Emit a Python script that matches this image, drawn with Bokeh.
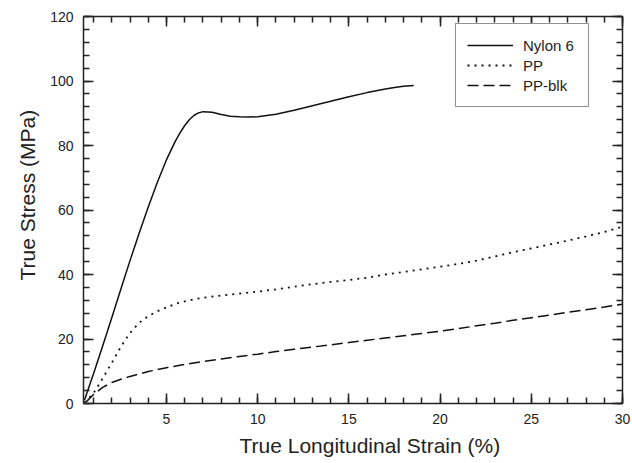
from bokeh.plotting import figure
from bokeh.models import (Range1d, FixedTicker, LinearAxis, Legend, LegendItem, Title)
from bokeh.embed import file_html
from bokeh.resources import INLINE

# ---- data ----
nylon_x = [0.5, 1.0, 1.5, 2.0, 2.5, 3.0, 3.5, 4.0, 4.5, 5.0, 5.5, 5.75, 6.0, 6.25, 6.5,
           6.75, 7.0, 7.5, 8.0, 8.5, 9.0, 9.5, 10.0, 11.0, 12.0,
           13.0, 14.0, 15.0, 16.0, 17.0, 17.5, 18.0, 18.55]
nylon_y = [1.0, 9.2, 17.8, 26.6, 35.5, 44.3, 52.8, 60.9, 68.6, 75.6, 81.5, 84.0, 86.2, 88.0, 89.3,
           90.1, 90.5, 90.3, 89.6, 89.1, 88.9, 88.8, 88.9, 89.7, 90.9,
           92.3, 93.7, 95.1, 96.4, 97.5, 98.0, 98.4, 98.6]

pp_x = [0.5, 1.0, 1.5, 2.0, 2.5, 3.0, 3.5, 4.0, 4.5, 5.0, 5.5, 6.0, 6.5, 7.0, 8.0, 9.0, 10.0,
        11.0, 12.0, 13.0, 14.0, 15.0, 16.0, 17.0, 18.0, 19.0, 20.0, 21.0, 22.0, 23.0,
        24.0, 25.0, 26.0, 27.0, 28.0, 29.0, 30.0]
pp_y = [0.3, 3.2, 7.8, 12.6, 17.6, 21.9, 25.0, 27.1, 28.6, 29.8, 30.9, 31.7, 32.3, 32.8, 33.5, 34.1, 34.7,
        35.4, 36.2, 37.0, 37.7, 38.3, 39.0, 40.0, 40.8, 41.6, 42.4, 43.3, 44.3, 45.6,
        46.9, 48.1, 49.3, 50.5, 51.8, 53.2, 54.8]

blk_x = [0.6, 1.0, 1.5, 2.0, 2.5, 3.0, 4.0, 5.0, 6.0, 7.0, 8.0, 9.0, 10.0, 11.0, 12.0,
         13.0, 14.0, 15.0, 16.0, 17.0, 18.0, 19.0, 20.0, 21.0, 22.0, 23.0, 24.0, 25.0,
         26.0, 27.0, 28.0, 29.0, 30.0]
blk_y = [0.5, 2.8, 5.0, 6.5, 7.5, 8.4, 9.9, 11.1, 12.1, 13.0, 13.8, 14.6, 15.3, 16.1, 16.8,
         17.5, 18.2, 18.9, 19.6, 20.3, 21.0, 21.7, 22.4, 23.2, 24.1, 24.9, 25.8, 26.6,
         27.4, 28.3, 29.1, 29.9, 30.8]

x_major = [5, 10, 15, 20, 25, 30]
x_minor = list(range(1, 31))
y_major = [0, 20, 40, 60, 80, 100, 120]
y_minor = list(range(0, 121, 4))

series_names = ["Nylon 6", "PP", "PP-blk"]
x_title = "True Longitudinal Strain (%)"
y_title = "True Stress (MPa)"

FONT = "Liberation Sans"
INK = "#222222"

p = figure(width=632, height=463, output_backend="svg", toolbar_location=None,
           x_range=Range1d(0.45, 30), y_range=Range1d(0, 120),
           min_border_left=83, min_border_right=10, min_border_top=16, min_border_bottom=60)
p.outline_line_color = None
p.grid.visible = False
p.background_fill_color = "white"
p.border_fill_color = "white"

def style_axis(ax, ticks, minor, labels=True):
    ax.ticker = FixedTicker(ticks=ticks, minor_ticks=minor)
    ax.major_tick_in = 10
    ax.major_tick_out = 0
    ax.minor_tick_in = 6
    ax.minor_tick_out = 0
    ax.axis_line_width = 1.5
    ax.major_tick_line_width = 1.5
    ax.minor_tick_line_width = 1.5
    ax.axis_line_color = INK
    ax.major_tick_line_color = INK
    ax.minor_tick_line_color = INK
    if labels:
        ax.major_label_text_font = FONT
        ax.major_label_text_font_size = "14px"
        ax.major_label_text_color = INK
        ax.major_label_standoff = 10
    else:
        ax.major_label_text_font_size = "1px"
        ax.major_label_text_color = None
        ax.major_label_text_alpha = 0
        ax.major_label_standoff = 0

style_axis(p.xaxis[0], x_major, x_minor)
style_axis(p.yaxis[0], y_major, y_minor)
top = LinearAxis()
right = LinearAxis()
style_axis(top, x_major, x_minor, labels=False)
style_axis(right, y_major, y_minor, labels=False)
p.add_layout(top, "above")
p.add_layout(right, "right")

r1 = p.line(nylon_x, nylon_y, line_color="#111111", line_width=1.5)
r2 = p.line(pp_x, pp_y, line_color="#111111", line_width=1.8, line_dash="2 5")
r3 = p.line(blk_x, blk_y, line_color="#111111", line_width=1.5, line_dash="11 5")

legend = Legend(items=[LegendItem(label=series_names[0], renderers=[r1]),
                       LegendItem(label=series_names[1], renderers=[r2]),
                       LegendItem(label=series_names[2], renderers=[r3])],
                location=(372, 296))
legend.border_line_color = INK
legend.border_line_width = 1
legend.background_fill_color = "white"
legend.background_fill_alpha = 1
legend.label_text_font = FONT
legend.label_text_font_size = "15px"
legend.label_text_color = INK
legend.glyph_width = 46
legend.glyph_height = 20
legend.label_height = 20
legend.label_width = 54
legend.label_standoff = 10
legend.spacing = 0
legend.padding = 11
legend.margin = 0
p.add_layout(legend, "center")

xt = Title(text=x_title, align="left", offset=156, standoff=10,
           text_font=FONT, text_font_size="21px", text_color=INK, text_font_style="normal")
yt = Title(text=y_title, align="left", offset=123, standoff=18,
           text_font=FONT, text_font_size="21px", text_color=INK, text_font_style="normal")
p.add_layout(xt, "below")
p.add_layout(yt, "left")

open("out.html", "w").write(file_html(p, INLINE))
